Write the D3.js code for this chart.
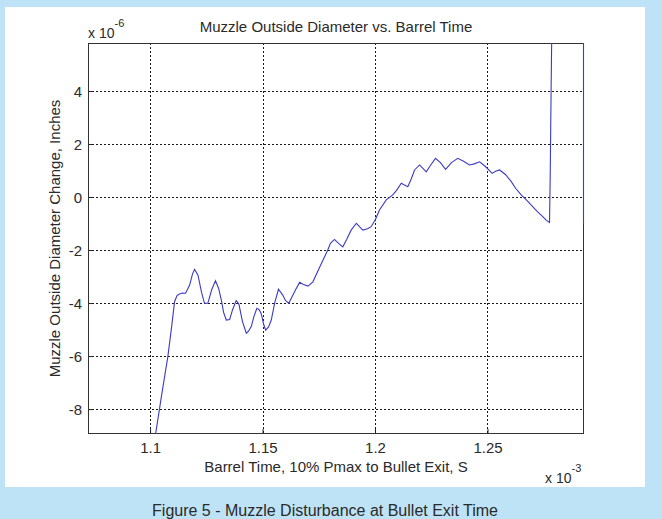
<!DOCTYPE html>
<html><head><meta charset="utf-8">
<script src="https://cdn.jsdelivr.net/npm/d3@7"></script>
<style>
html,body{margin:0;padding:0;background:#bee3f6;}
svg{display:block;}
text{font-family:"Liberation Sans",Arial,sans-serif;fill:#2a2a2a;}
</style></head><body>
<svg id="chart" width="662" height="519"></svg>
<script>
// Barrel time (x 10^-3 s)
const timeVals = [1.1022,1.1053,1.1081,1.1098,1.1111,1.1122,1.1133,1.1147,1.1160,1.1178,1.1191,1.1200,1.1215,1.1231,1.1244,1.1259,1.1276,1.1293,1.1307,1.1319,1.1329,1.1341,1.1356,1.1369,1.1385,1.1397,1.1413,1.1430,1.1440,1.1452,1.1464,1.1477,1.1487,1.1496,1.1507,1.1516,1.1529,1.1541,1.1556,1.1573,1.1592,1.1604,1.1619,1.1631,1.1649,1.1667,1.1684,1.1704,1.1726,1.1756,1.1792,1.1804,1.1822,1.1840,1.1859,1.1876,1.1896,1.1919,1.1933,1.1948,1.1969,1.1985,1.2004,1.2022,1.2052,1.2081,1.2098,1.2119,1.2133,1.2148,1.2164,1.2178,1.2200,1.2213,1.2230,1.2249,1.2271,1.2293,1.2316,1.2342,1.2370,1.2396,1.2422,1.2444,1.2467,1.2493,1.2523,1.2538,1.2556,1.2582,1.2608,1.2627,1.2652,1.2676,1.2704,1.2724,1.2748,1.2764,1.2778,1.2781,1.2785,1.2789,1.2929,1.2929];
// Muzzle outside diameter change (x 10^-6 in)
const diamVals = [-9.2,-7.5,-6.03,-4.9,-3.95,-3.72,-3.66,-3.62,-3.63,-3.32,-2.9,-2.73,-2.94,-3.6,-4.01,-4.01,-3.5,-3.16,-3.45,-3.89,-4.35,-4.64,-4.62,-4.25,-3.91,-4.04,-4.7,-5.14,-5.06,-4.89,-4.5,-4.2,-4.25,-4.39,-4.8,-5.02,-4.9,-4.64,-4.0,-3.48,-3.7,-3.9,-4.01,-3.8,-3.5,-3.22,-3.3,-3.36,-3.2,-2.65,-2.0,-1.75,-1.6,-1.75,-1.88,-1.6,-1.25,-0.99,-1.12,-1.25,-1.2,-1.12,-0.85,-0.49,-0.11,0.08,0.25,0.52,0.45,0.39,0.7,1.02,1.21,1.1,0.95,1.2,1.46,1.3,1.04,1.3,1.46,1.35,1.21,1.25,1.33,1.15,0.89,0.97,1.02,0.85,0.58,0.33,0.08,-0.12,-0.37,-0.55,-0.74,-0.88,-0.96,0.77,4.04,7.0,8.0,-1.0];
const xTicks = [1.1,1.15,1.2,1.25];
const xTickLabels = ["1.1","1.15","1.2","1.25"];
const yTicks = [-8,-6,-4,-2,0,2,4];
const yTickLabels = ["-8","-6","-4","-2","0","2","4"];
const xDomain = [1.0724,1.2929];
const yDomain = [-8.94,5.81];
const titleText = "Muzzle Outside Diameter vs. Barrel Time";
const xLabel = "Barrel Time, 10% Pmax to Bullet Exit, S";
const yLabel = "Muzzle Outside Diameter Change, Inches";
const caption = "Figure 5 - Muzzle Disturbance at Bullet Exit Time";

const svg = d3.select("#chart");
const L=88,R=584,T=43,B=434;
svg.append("rect").attr("x",5).attr("y",7).attr("width",640).attr("height",480).attr("fill","#fff");

const x = d3.scaleLinear().domain(xDomain).range([L,R]);
const y = d3.scaleLinear().domain(yDomain).range([B,T]);

svg.append("clipPath").attr("id","clip").append("rect").attr("x",L).attr("y",T).attr("width",R-L+1).attr("height",B-T);

// grid
const g = svg.append("g");
g.selectAll(".gx").data(xTicks).join("line")
  .attr("x1",d=>Math.round(x(d))+0.5).attr("x2",d=>Math.round(x(d))+0.5)
  .attr("y1",T).attr("y2",B).attr("stroke","#1a1a1a").attr("stroke-dasharray","2,2").attr("stroke-width",1);
g.selectAll(".gy").data(yTicks).join("line")
  .attr("y1",d=>Math.round(y(d))+0.5).attr("y2",d=>Math.round(y(d))+0.5)
  .attr("x1",L).attr("x2",R).attr("stroke","#1a1a1a").attr("stroke-dasharray","2,2").attr("stroke-width",1);

// axes via d3 axis
const xAxis = d3.axisBottom(x).tickValues(xTicks).tickFormat((d,i)=>xTickLabels[i]).tickSizeInner(-5).tickSizeOuter(0).tickPadding(8);
const yAxis = d3.axisLeft(y).tickValues(yTicks).tickFormat((d,i)=>yTickLabels[i]).tickSizeInner(-5).tickSizeOuter(0).tickPadding(6);
const gx = svg.append("g").attr("transform",`translate(0,${B})`).call(xAxis);
const gy = svg.append("g").attr("transform",`translate(${L},0)`).call(yAxis);
[gx,gy].forEach(a=>{
  a.select(".domain").remove();
  a.selectAll("line").attr("stroke","#222");
  a.selectAll("text").attr("font-size",15).attr("fill","#333").attr("font-family","Liberation Sans, Arial, sans-serif");
});
gy.selectAll("text").attr("dy","0.35em");

// box
svg.append("rect").attr("x",L+0.5).attr("y",T+0.5).attr("width",R-L-1).attr("height",B-T-1)
  .attr("fill","none").attr("stroke","#333").attr("stroke-width",1);

// data line
const pts = timeVals.map((t,i)=>[t,diamVals[i]]);
svg.append("path").datum(pts).attr("clip-path","url(#clip)")
  .attr("fill","none").attr("stroke","#3b3bc4").attr("stroke-width",1.1)
  .attr("d",d3.line().x(d=>x(d[0])-0.5).y(d=>y(d[1])));

// texts
svg.append("text").attr("x",(L+R)/2).attr("y",32).attr("text-anchor","middle").attr("font-size",15).text(titleText);
const ex1 = svg.append("text").attr("x",88).attr("y",38).attr("font-size",14);
ex1.append("tspan").text("x 10");
ex1.append("tspan").attr("dy",-11).attr("font-size",11).text("-6");

svg.append("text").attr("x",(L+R)/2).attr("y",472).attr("text-anchor","middle").attr("font-size",15).text(xLabel);
const ex2 = svg.append("text").attr("x",545).attr("y",483).attr("font-size",14);
ex2.append("tspan").text("x 10");
ex2.append("tspan").attr("dy",-11).attr("font-size",11).text("-3");

svg.append("text").attr("transform",`translate(60,${(T+B)/2}) rotate(-90)`).attr("text-anchor","middle").attr("font-size",15).text(yLabel);

svg.append("text").attr("x",325).attr("y",516).attr("text-anchor","middle").attr("font-size",16).text(caption);
</script>
</body></html>
